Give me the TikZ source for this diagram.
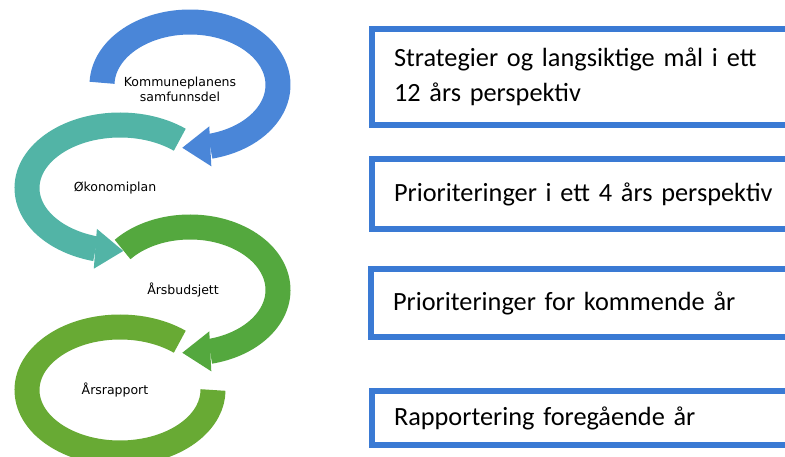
\documentclass[tikz,border=0pt]{standalone}
\usepackage{fontspec}
\setmainfont{Carlito}
\newfontfamily\ringfont{DejaVu Sans}
\usetikzlibrary{arrows.meta,bending}

\definecolor{ringblue}{RGB}{74,134,216}
\definecolor{ringteal}{RGB}{82,180,166}
\definecolor{ringgreen}{RGB}{84,168,62}
\definecolor{ringlime}{RGB}{104,170,52}
\definecolor{planblue}{RGB}{58,122,212}

\begin{document}
\begin{tikzpicture}[x=1pt, y=1pt,
  ring/.style={line width=25pt},
  ringtip/.style={-{Triangle[width=40pt, length=28pt, line width=0pt]}},
  ringlabel/.style={font=\ringfont\fontsize{12.5}{15}\selectfont, align=center},
  plan/.style={draw=planblue, line width=6pt, anchor=north west,
    text width=420pt, align=left, inner xsep=22pt,
    font=\fontsize{26.3}{35}\selectfont}]

  \useasboundingbox (0,0) rectangle (785,456);
  \clip (0,0) rectangle (785,456);

  % centres of the four rings
  \coordinate (c1) at (190,371);
  \coordinate (c2) at (120,268);
  \coordinate (c3) at (190,166);
  \coordinate (c4) at (120,66);

  % ring labels
  \node[ringlabel] (kom) at ([xshift=-10pt, yshift=-4pt]c1)
       {Kommuneplanens\\samfunnsdel};
  \node[ringlabel] (oko) at ([xshift=-5pt]c2) {Økonomiplan};
  \node[ringlabel] (bud) at ([xshift=-7pt]c3) {Årsbudsjett};
  \node[ringlabel] (rap) at ([xshift=-5pt]c4) {Årsrapport};

  % rings
  \begin{scope}[ring]
  \draw[ringblue, ringtip] (c1) ++(178:88pt and 63pt)
       arc[start angle=178, end angle=-95, x radius=88pt, y radius=63pt];
  \draw[ringteal, ringtip] (c2) ++(50:93pt and 63pt)
       arc[start angle=50, end angle=272, x radius=93pt, y radius=63pt];
  \draw[ringgreen, ringtip] (c3) ++(140:88pt and 63pt)
       arc[start angle=140, end angle=-95, x radius=88pt, y radius=63pt];
  \draw[ringlime] (c4) ++(50:93pt and 63pt)
       arc[start angle=50, end angle=360, x radius=93pt, y radius=63pt];
  \end{scope}

  % plan boxes
  \node[plan, minimum height=96pt] (p1) at (369,430)
       {Strategier og langsiktige mål i ett\\12 års perspektiv};
  \node[plan, minimum height=70pt] (p2) at (369,300)
       {Prioriteringer i ett 4 års perspektiv};
  \node[plan, minimum height=68pt] (p3) at (368,190)
       {Prioriteringer for kommende år};
  \node[plan, minimum height=54pt] (p4) at (369,68)
       {Rapportering foregående år};

\end{tikzpicture}
\end{document}
